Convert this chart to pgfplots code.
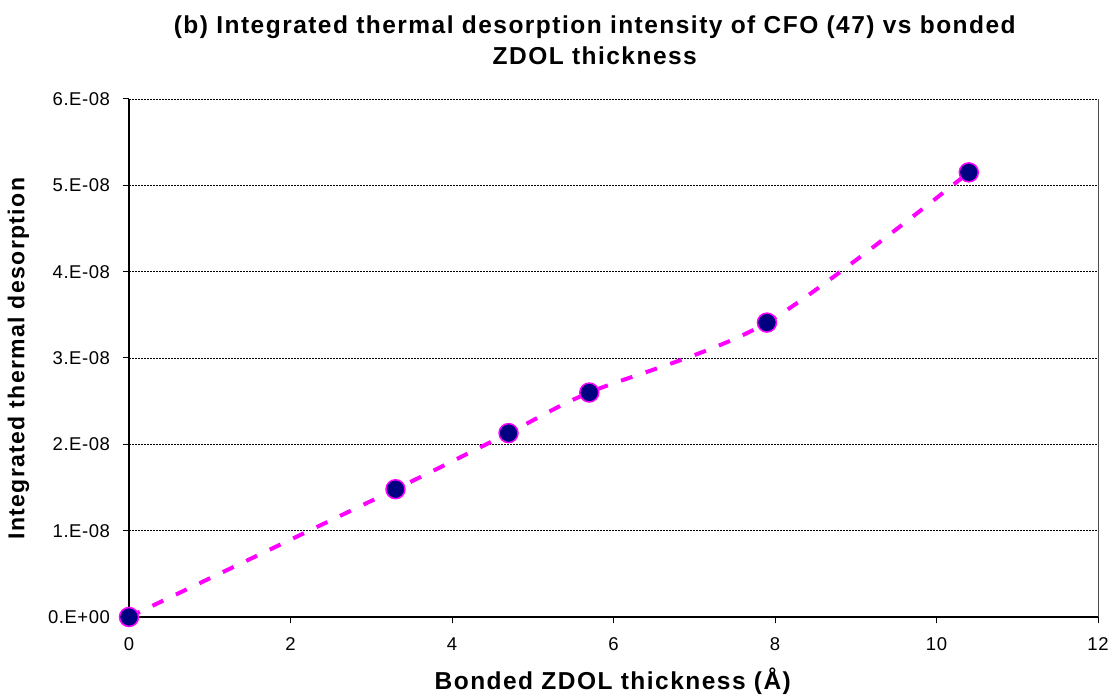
\documentclass[border=0pt]{standalone}
\usepackage{pgfplots}
\pgfplotsset{compat=1.18}
\usepackage{fontspec}
\setmainfont{Liberation Sans}
\newfontfamily\wide[LetterSpace=6]{Liberation Sans}
\newfontfamily\tickf[LetterSpace=3]{Liberation Sans}
\definecolor{mkfill}{RGB}{0,0,128}
\definecolor{mag}{RGB}{255,0,255}
\begin{document}
\begin{tikzpicture}[x=1bp,y=1bp]
\useasboundingbox (0,0) rectangle (1110,698);
\begin{axis}[
  at={(129bp,81bp)}, anchor=south west,
  scale only axis, width=969bp, height=518bp,
  xmin=0, xmax=12, ymin=0, ymax=6e-8,
  xtick={0,2,...,12},
  ytick={0,1e-8,2e-8,3e-8,4e-8,5e-8,6e-8},
  yticklabels={0.E+00,1.E-08,2.E-08,3.E-08,4.E-08,5.E-08,6.E-08},
  scaled y ticks=false,
  /pgf/number format/assume math mode=true,
  tick label style={font=\tickf\fontsize{18.5bp}{22bp}\selectfont},
  axis line style={draw=none},
  tick pos=left, tick align=outside,
  major tick length=6.5bp,
  tick style={black, line width=1bp},
  ymajorgrids,
  grid style={black, line width=0.6bp, dash pattern=on 2bp off 1bp},
  clip=false,
  xlabel={\textbf{Bonded ZDOL thickness (Å)}},
  ylabel={\textbf{Integrated thermal desorption}},
  label style={font=\wide\fontsize{23bp}{27bp}\selectfont},
  xlabel style={yshift=-10bp, font=\wide\fontsize{24.5bp}{28bp}\selectfont},
  ylabel style={yshift=12bp},
  title={\textbf{(b) Integrated thermal desorption intensity of CFO (47) vs bonded}\\\textbf{ZDOL thickness}},
  title style={font=\wide\fontsize{24.5bp}{31bp}\selectfont, align=center, yshift=25bp, xshift=-18bp},
  xticklabel style={yshift=-11bp},
  yticklabel style={xshift=-9bp},
]
\draw[gray!60!black, line width=1bp] (axis cs:12,0) -- (axis cs:12,6e-8);
\draw[black, line width=1.2bp] (axis cs:0,6e-8) -- (axis cs:0,0) -- (axis cs:12,0);
\addplot[mag, line width=4bp, dash pattern=on 12bp off 14bp, smooth, tension=0.5] coordinates {
(0,0) (3.3,1.48e-8) (4.7,2.13e-8) (5.7,2.60e-8) (7.9,3.41e-8) (10.4,5.15e-8)};
\addplot[only marks, mark=*, mark size=9.5bp, mark options={fill=mkfill, draw=mag, line width=1.5bp}] coordinates {
(0,0) (3.3,1.48e-8) (4.7,2.13e-8) (5.7,2.60e-8) (7.9,3.41e-8) (10.4,5.15e-8)};
\end{axis}
\end{tikzpicture}
\end{document}
